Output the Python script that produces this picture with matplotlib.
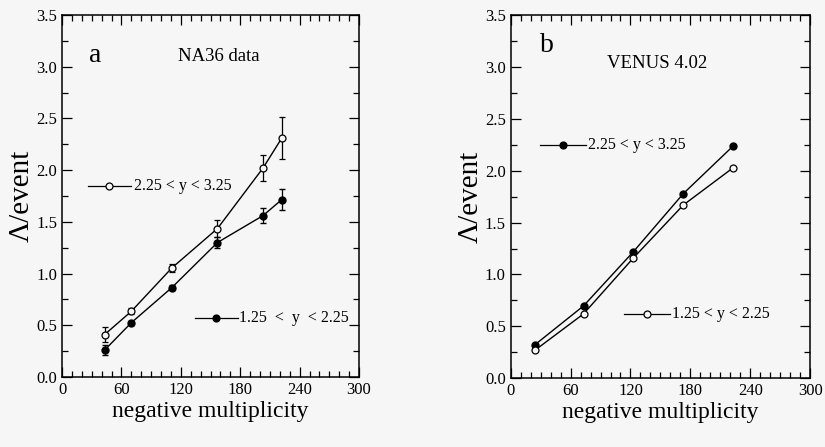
import numpy as np
import matplotlib
matplotlib.use('Agg')
import matplotlib.pyplot as plt
from matplotlib.ticker import MultipleLocator

plt.rcParams['font.family'] = ['Liberation Serif', 'DejaVu Serif']

# panel a: NA36 data
a_mult = [43, 70, 111, 157, 203, 222]
a_open = [0.41, 0.635, 1.055, 1.435, 2.02, 2.31]
a_open_err = [0.07, 0.03, 0.04, 0.08, 0.13, 0.20]
a_fill = [0.26, 0.525, 0.865, 1.30, 1.56, 1.715]
a_fill_err = [0.05, 0.02, 0.02, 0.05, 0.07, 0.10]

# panel b: VENUS 4.02
b_mult = [24, 73, 123, 173, 223]
b_fill = [0.32, 0.697, 1.22, 1.78, 2.24]
b_open = [0.267, 0.62, 1.16, 1.67, 2.03]

lab_hi = '2.25 < y < 3.25'
lab_lo = '1.25 < y < 2.25'
lab_lo_a = '1.25  <  y  < 2.25'

bg = '#f6f6f6'
fig = plt.figure(figsize=(8.25, 4.47), dpi=100, facecolor=bg)
ax1 = fig.add_axes([0.0752, 0.1566, 0.360, 0.810])
ax2 = fig.add_axes([0.619, 0.154, 0.363, 0.812])


def style(ax):
    ax.set_facecolor(bg)
    ax.set_xlim(0, 300)
    ax.set_ylim(0, 3.5)
    ax.xaxis.set_major_locator(MultipleLocator(60))
    ax.xaxis.set_minor_locator(MultipleLocator(10))
    ax.yaxis.set_major_locator(MultipleLocator(0.5))
    ax.yaxis.set_minor_locator(MultipleLocator(0.25))
    ax.yaxis.set_major_formatter(matplotlib.ticker.FormatStrFormatter('%.1f'))
    ax.tick_params(which='both', direction='in', top=True, right=True,
                   labelsize=12, width=0.9, colors='black')
    ax.tick_params(which='major', length=7)
    ax.tick_params(which='minor', length=4)
    for s in ax.spines.values():
        s.set_linewidth(1.1)
    ax.set_xlabel('negative multiplicity', fontsize=17, labelpad=2)
    ax.set_ylabel('Λ/event', fontsize=21, labelpad=1)


def key(ax, x0, x1, xm, y, filled, text, tx):
    ax.plot([x0, x1], [y, y], color='black', lw=0.9)
    ax.plot([xm], [y], marker='o', ms=5, color='black',
            mfc='black' if filled else bg, mec='black', mew=0.9)
    ax.text(tx, y, text, fontsize=11.5, va='center', ha='left')


style(ax1)
ax1.errorbar(a_mult, a_open, yerr=a_open_err, color='black', lw=1.0,
             marker='o', ms=5, mfc=bg, mec='black', mew=0.9,
             capsize=2.5, elinewidth=0.9, zorder=3)
ax1.errorbar(a_mult, a_fill, yerr=a_fill_err, color='black', lw=1.0,
             marker='o', ms=5, mfc='black', mec='black',
             capsize=2.5, elinewidth=0.9, zorder=3)
key(ax1, 26, 70, 47, 1.85, False, lab_hi, 73)
key(ax1, 134, 178, 156, 0.574, True, lab_lo_a, 179)
ax1.text(33, 3.11, 'a', fontsize=20, ha='center', va='center')
ax1.text(158, 3.10, 'NA36 data', fontsize=13.5, ha='center', va='center')

style(ax2)
ax2.plot(b_mult, b_fill, color='black', lw=1.0, marker='o', ms=5,
         mfc='black', mec='black', zorder=3)
ax2.plot(b_mult, b_open, color='black', lw=1.0, marker='o', ms=5,
         mfc=bg, mec='black', mew=0.9, zorder=3)
key(ax2, 29, 75, 52, 2.25, True, lab_hi, 77)
key(ax2, 114, 160, 137, 0.617, False, lab_lo, 162)
ax2.text(36, 3.21, 'b', fontsize=20, ha='center', va='center')
ax2.text(147, 3.03, 'VENUS 4.02', fontsize=13.5, ha='center', va='center')

fig.savefig('out.png', dpi=100, facecolor=bg)
